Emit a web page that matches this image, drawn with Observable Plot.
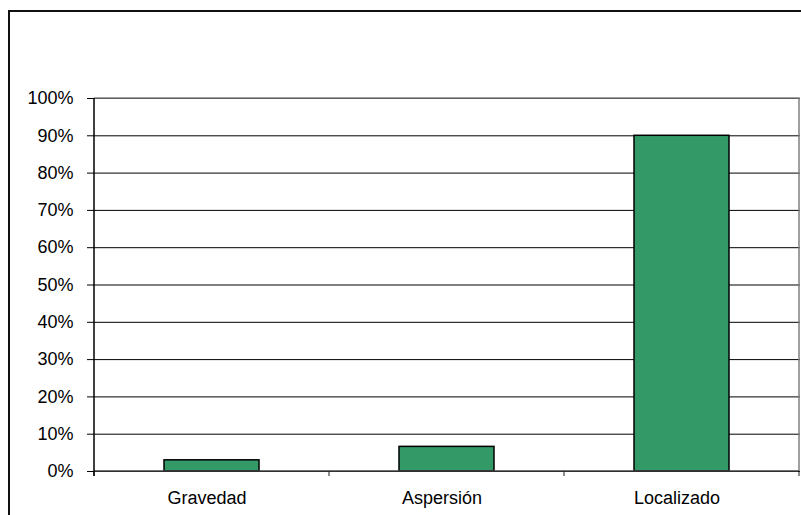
<!DOCTYPE html>
<html>
<head>
<meta charset="utf-8">
<script src="https://cdn.jsdelivr.net/npm/d3@7"></script>
<script src="https://cdn.jsdelivr.net/npm/@observablehq/plot@0.6"></script>
<style>
  html, body { margin: 0; padding: 0; background: #fff; overflow: hidden; }
  #wrap { position: relative; width: 801px; height: 515px; }
  #border { position: absolute; left: 8px; top: 10px; width: 900px; height: 700px;
            border: 2px solid #111; box-sizing: border-box; pointer-events: none; }
  #chart { position: absolute; left: 0; top: 0; }
</style>
</head>
<body>
<div id="wrap">
  <div id="chart"></div>
  <div id="border"></div>
</div>
<script>
// Irrigation method shares
const categories = ["Gravedad", "Aspersión", "Localizado"];
const shares = [0.03, 0.066, 0.90];
const yTicks = [0, 0.1, 0.2, 0.3, 0.4, 0.5, 0.6, 0.7, 0.8, 0.9, 1];

const data = categories.map((c, i) => ({category: c, share: shares[i]}));

const chart = Plot.plot({
  width: 801,
  height: 515,
  marginLeft: 93,
  marginRight: 1,
  marginTop: 98,
  marginBottom: 44,
  style: {fontFamily: "'Liberation Sans', Arial, sans-serif", fontSize: "18px", color: "#000", background: "transparent"},
  x: {domain: categories, padding: 0, label: null},
  y: {domain: [0, 1], label: null},
  marks: [
    Plot.ruleY(yTicks, {stroke: "#000", strokeWidth: 1, strokeOpacity: 1}),
    Plot.barY(data, {x: "category", y: "share", fill: "#339966", stroke: "#000", strokeWidth: 1.5, insetLeft: 70, insetRight: 70}),
    Plot.axisY({ticks: yTicks, tickFormat: d3.format(".0%"), tickSize: 6, tickPadding: 14, stroke: "#000", fontSize: 18}),
    Plot.axisX({tickSize: 0, tickPadding: 20, dx: -5, fontSize: 18})
  ]
});
document.getElementById("chart").appendChild(chart);

// Plot-area frame, left axis line and category boundary ticks
const sx = chart.scale("x");
const sy = chart.scale("y");
const svg = d3.select(chart);
const left = sx.apply(categories[0]);
const right = sx.apply(categories[categories.length - 1]) + sx.bandwidth;
const y0 = sy.apply(0), y1 = sy.apply(1);
const g = svg.append("g").attr("fill", "none");
// top and right border
g.append("path").attr("d", `M${left},${y1}H${right}V${y0}`).attr("stroke", "#808080").attr("stroke-width", 1.5);
// baseline
g.append("line").attr("x1", left).attr("x2", right).attr("y1", y0).attr("y2", y0).attr("stroke", "#404040").attr("stroke-width", 1.5);
// boundary ticks
const bounds = categories.map(c => sx.apply(c)).concat([right]);
g.selectAll("line.b").data(bounds).join("line")
  .attr("x1", d => d).attr("x2", d => d).attr("y1", y0).attr("y2", y0 + 5)
  .attr("stroke", "#202020").attr("stroke-width", 1);
// left axis line
g.append("line").attr("x1", left).attr("x2", left).attr("y1", y1).attr("y2", y0 + 5).attr("stroke", "#000").attr("stroke-width", 1.5);
</script>
</body>
</html>
